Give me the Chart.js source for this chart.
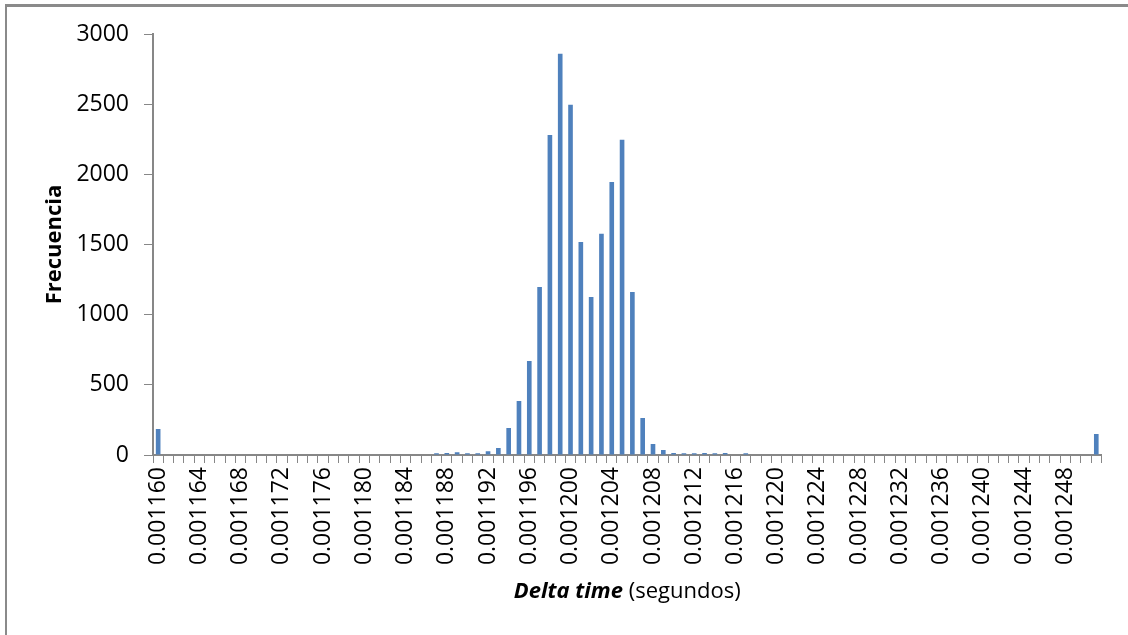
<!DOCTYPE html>
<html>
<head>
<meta charset="utf-8">
<script src="https://cdn.jsdelivr.net/npm/chart.js@4/dist/chart.umd.min.js"></script>
<style>
  body { margin: 0; background: #fff; }
  #chart { display: block; }
</style>
</head>
<body>
<canvas id="chart" width="1128" height="635"></canvas>
<script>
"use strict";

// histogram bins (seconds)
const categories = [
    "0.001160", "0.001161", "0.001162", "0.001163", "0.001164", "0.001165", "0.001166", "0.001167",
    "0.001168", "0.001169", "0.001170", "0.001171", "0.001172", "0.001173", "0.001174", "0.001175",
    "0.001176", "0.001177", "0.001178", "0.001179", "0.001180", "0.001181", "0.001182", "0.001183",
    "0.001184", "0.001185", "0.001186", "0.001187", "0.001188", "0.001189", "0.001190", "0.001191",
    "0.001192", "0.001193", "0.001194", "0.001195", "0.001196", "0.001197", "0.001198", "0.001199",
    "0.001200", "0.001201", "0.001202", "0.001203", "0.001204", "0.001205", "0.001206", "0.001207",
    "0.001208", "0.001209", "0.001210", "0.001211", "0.001212", "0.001213", "0.001214", "0.001215",
    "0.001216", "0.001217", "0.001218", "0.001219", "0.001220", "0.001221", "0.001222", "0.001223",
    "0.001224", "0.001225", "0.001226", "0.001227", "0.001228", "0.001229", "0.001230", "0.001231",
    "0.001232", "0.001233", "0.001234", "0.001235", "0.001236", "0.001237", "0.001238", "0.001239",
    "0.001240", "0.001241", "0.001242", "0.001243", "0.001244", "0.001245", "0.001246", "0.001247",
    "0.001248", "0.001249", "0.001250", "0.001251"
]

const frecuencia = [
    185, 0, 0, 0, 0, 0, 0, 0,
    0, 0, 0, 0, 0, 0, 0, 0,
    0, 0, 0, 0, 0, 0, 0, 0,
    0, 0, 0, 12, 14, 20, 12, 13,
    26, 50, 192, 385, 670, 1198, 2281, 2859,
    2495, 1518, 1126, 1576, 1946, 2246, 1162, 264,
    78, 36, 14, 12, 12, 14, 12, 14,
    0, 12, 0, 0, 0, 0, 0, 0,
    0, 0, 0, 0, 0, 0, 0, 0,
    0, 0, 0, 0, 0, 0, 0, 0,
    0, 0, 0, 0, 0, 0, 0, 0,
    0, 0, 0, 150
]

const yTicks = [0, 500, 1000, 1500, 2000, 2500, 3000]
const labelEvery = 4

const axisGrey = "#878787"
const fontFamily = "'Open Sans', sans-serif"

// frame lines + mixed-style x title
const extras = {
    id: "extras",
    afterDraw(chart) {
        const ctx = chart.ctx
        const area = chart.chartArea
        ctx.save()
        ctx.fillStyle = "#8a8a8a"
        ctx.fillRect(5, 4, 1123, 3)
        ctx.fillRect(5, 4, 2, 631)

        const part1 = "Delta time"
        const part2 = " (segundos)"
        const f1 = "italic bold 22px " + fontFamily
        const f2 = "22px " + fontFamily
        ctx.font = f1
        const w1 = ctx.measureText(part1).width
        ctx.font = f2
        const w2 = ctx.measureText(part2).width
        let x = (area.left + area.right) / 2 - (w1 + w2) / 2
        const y = 598
        ctx.fillStyle = "#000"
        ctx.textBaseline = "alphabetic"
        ctx.textAlign = "left"
        ctx.font = f1
        ctx.fillText(part1, x, y)
        ctx.font = f2
        ctx.fillText(part2, x + w1, y)
        ctx.restore()
    }
}

const data = {
    labels: categories,
    datasets: [
        {
            label: "Frecuencia",
            data: frecuencia,
            backgroundColor: "#4f81bd",
            borderWidth: 0,
            categoryPercentage: 1.0,
            barPercentage: 0.45
        }
    ]
}

const config = {
    type: "bar",
    data: data,
    plugins: [extras],
    options: {
        responsive: false,
        animation: false,
        events: [],
        layout: { padding: { top: 34, right: 21, left: 0, bottom: 0 } },
        plugins: {
            legend: { display: false },
            tooltip: { enabled: false }
        },
        scales: {
            x: {
                type: "category",
                offset: true,
                border: { display: true, color: axisGrey, width: 2 },
                grid: {
                    offset: true,
                    drawOnChartArea: false,
                    drawTicks: true,
                    tickLength: 8,
                    color: axisGrey,
                    lineWidth: 1
                },
                ticks: {
                    autoSkip: false,
                    minRotation: 90,
                    maxRotation: 90,
                    padding: 4,
                    color: "#000",
                    font: { family: fontFamily, size: 23 },
                    callback: function(value, index) {
                        return index % labelEvery === 0 ? categories[index] : ""
                    }
                },
                afterFit: scale => { scale.height = 180 }
            },
            y: {
                min: 0,
                max: 3000,
                border: { display: true, color: axisGrey, width: 2 },
                grid: {
                    drawOnChartArea: false,
                    drawTicks: true,
                    tickLength: 9,
                    color: axisGrey
                },
                afterBuildTicks: scale => {
                    scale.ticks = yTicks.map(v => ({ value: v }))
                },
                ticks: {
                    padding: 15,
                    color: "#000",
                    font: { family: fontFamily, size: 23 },
                    callback: value => String(value)
                },
                title: {
                    display: true,
                    text: "Frecuencia",
                    color: "#000",
                    font: { family: fontFamily, size: 22, weight: "bold" },
                    padding: { top: 42, bottom: 0 }
                },
                afterFit: scale => { scale.width = 153 }
            }
        }
    }
}

const ctx = document.getElementById("chart")
new Chart(ctx, config)
</script>
</body>
</html>
